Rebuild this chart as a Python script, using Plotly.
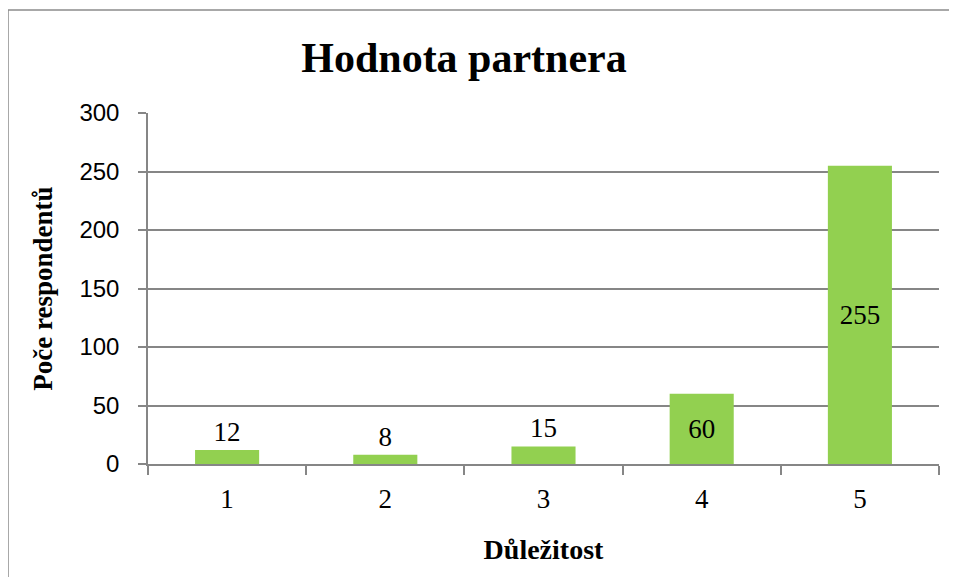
import plotly.graph_objects as go

categories = ["1", "2", "3", "4", "5"]
values = [12, 8, 15, 60, 255]
y_ticks = [0, 50, 100, 150, 200, 250, 300]

# The page body adds an 8px offset; lay out in screen pixels and compensate.
O = 8
SW, SH = 957, 577
W, H = SW - O, SH - O
PL, PR, PT, PB = 148, 939, 113, 464  # plot area in screen pixels
L, T = PL - O, PT - O
R = W - (PR - O)
B = H - (PB - O)
pw, ph = W - L - R, H - T - B

def px_x(x):
    return (x - O - L) / pw

def px_y(y):
    return (H - B - (y - O)) / ph

fig = go.Figure()
fig.add_trace(go.Bar(
    x=categories, y=values,
    marker=dict(color="#92D050", line=dict(width=0)),
    text=[str(v) for v in values],
    textposition="auto",
    insidetextanchor="middle",
    textfont=dict(family="Liberation Serif", size=27, color="black"),
    outsidetextfont=dict(family="Liberation Serif", size=27, color="black"),
    insidetextfont=dict(family="Liberation Serif", size=27, color="black"),
    cliponaxis=False,
    width=0.405,
))

fig.update_layout(
    width=W, height=H,
    margin=dict(l=L, r=R, t=T, b=B, autoexpand=False),
    paper_bgcolor="white", plot_bgcolor="white",
    showlegend=False,
    title=dict(text="<b>Hodnota partnera</b>", x=(464 - O) / W, xref="container", xanchor="center",
               y=1 - (57 - O) / H, yref="container", yanchor="middle",
               font=dict(family="Liberation Serif", size=42, color="black")),
    uniformtext=dict(mode=False),
)

fig.update_xaxes(
    type="category",
    tickson="boundaries",
    ticks="outside", ticklen=9, tickcolor="#868686", tickwidth=1.5,
    showline=True, linecolor="#868686", linewidth=1.5,
    showgrid=False, automargin=False,
    ticklabelstandoff=10,
    tickfont=dict(family="Liberation Serif", size=27, color="black"),
    title=dict(text="<b>Důležitost</b>", standoff=26,
               font=dict(family="Liberation Serif", size=28, color="black")),
)

fig.update_yaxes(
    range=[0, 300], tickvals=y_ticks, ticktext=[str(t) for t in y_ticks],
    ticks="outside", ticklen=8, tickcolor="#868686", tickwidth=1.5,
    showline=True, linecolor="#868686", linewidth=1.5,
    showgrid=True, gridcolor="#868686", gridwidth=1.5,
    zeroline=False, automargin=False,
    ticklabelstandoff=14,
    tickfont=dict(family="Liberation Sans", size=24, color="black"),
    title=dict(text="<b>Poče respondentů</b>", standoff=19,
               font=dict(family="Liberation Serif", size=27, color="black")),
)

fig.add_shape(type="rect", xref="paper", yref="paper",
              x0=px_x(8), x1=px_x(1100), y0=px_y(700), y1=px_y(10),
              line=dict(color="#8c8c8c", width=1.5), fillcolor="rgba(0,0,0,0)", layer="below")

fig.write_html("out.html")
